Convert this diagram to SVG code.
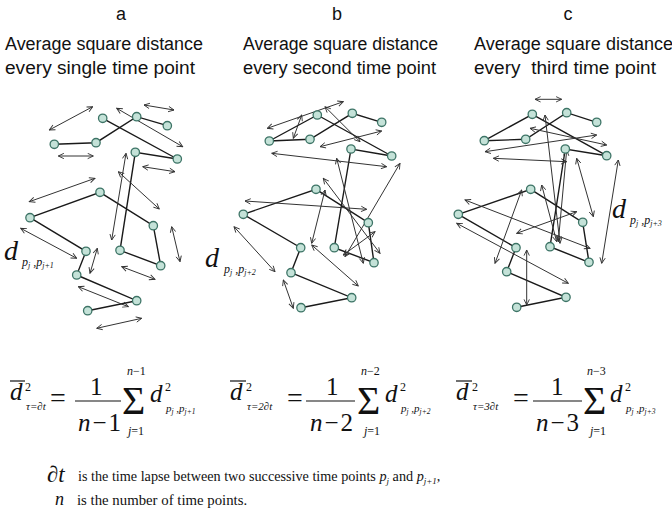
<svg xmlns="http://www.w3.org/2000/svg" width="672" height="530" viewBox="0 0 672 530">
<style>
.hd{font-family:"Liberation Sans",Arial,sans-serif;font-size:18px;fill:#111}
.mi{font-family:"Liberation Serif","Times New Roman",serif;font-style:italic;fill:#111}
.mr{font-family:"Liberation Serif","Times New Roman",serif;fill:#111}
.edge{stroke:#1a1a1a;stroke-width:1.4;fill:none}
.arr{stroke:#333;stroke-width:1;fill:none;marker-start:url(#ah);marker-end:url(#ah)}
.node circle{fill:#c4e2d8;stroke:#3d7466;stroke-width:1.3}
.bar{stroke:#111;stroke-width:1.2}
</style>
<defs>
<marker id="ah" viewBox="0 0 10 10" refX="9" refY="5" markerWidth="7" markerHeight="7" markerUnits="userSpaceOnUse" orient="auto-start-reverse">
<path d="M1,1.2 L9,5 L1,8.8" fill="none" stroke="#333" stroke-width="1.3"/>
</marker>
</defs>
<rect width="672" height="530" fill="#fff"/>

<g id="headers">
<text class="hd" x="121" y="20" text-anchor="middle">a</text>
<text class="hd" x="5" y="50" textLength="198" lengthAdjust="spacingAndGlyphs">Average square distance</text>
<text class="hd" x="5" y="74" textLength="190" lengthAdjust="spacingAndGlyphs">every single time point</text>
<text class="hd" x="337" y="20" text-anchor="middle">b</text>
<text class="hd" x="243" y="50" textLength="195" lengthAdjust="spacingAndGlyphs">Average square distance</text>
<text class="hd" x="243" y="74" textLength="193" lengthAdjust="spacingAndGlyphs">every second time point</text>
<text class="hd" x="568" y="20" text-anchor="middle">c</text>
<text class="hd" x="474" y="50" textLength="199" lengthAdjust="spacingAndGlyphs">Average square distance</text>
<text class="hd" x="474" y="74" textLength="182" lengthAdjust="spacingAndGlyphs" xml:space="preserve">every  third time point</text>
</g>

<g id="connectors">
<path class="edge" d="M54.3,144.3 L96,142.7 L136.7,116.7 L167.3,125.7"/>
<path class="edge" d="M102.7,118.3 L177.3,159 L135.3,152.3 L120,250.3 L160.7,265.7 L153.3,225.7 L100,192.3 L30,217.7 L86,251.3 L76.7,275 L136.7,300.7 L87.7,310.7"/>
<line class="arr" x1="49.3" y1="130" x2="92.7" y2="106.7"/>
<line class="arr" x1="58.3" y1="156" x2="93.3" y2="156"/>
<line class="arr" x1="116.7" y1="108.3" x2="182.7" y2="146.7"/>
<line class="arr" x1="144" y1="105" x2="174" y2="110"/>
<line class="arr" x1="142.7" y1="166.7" x2="175" y2="171.7"/>
<line class="arr" x1="126" y1="153.3" x2="111.7" y2="240"/>
<line class="arr" x1="118.3" y1="171.7" x2="159.3" y2="209"/>
<line class="arr" x1="29.3" y1="201.7" x2="95" y2="178.3"/>
<line class="arr" x1="20.7" y1="228.3" x2="76.7" y2="258.3"/>
<line class="arr" x1="171.7" y1="226.7" x2="180" y2="261.7"/>
<line class="arr" x1="121.7" y1="266.7" x2="155" y2="279.3"/>
<line class="arr" x1="97.3" y1="248.3" x2="90" y2="273.3"/>
<line class="arr" x1="78.3" y1="286.7" x2="128.3" y2="306.7"/>
<line class="arr" x1="96.7" y1="328.3" x2="141.7" y2="318.3"/>

<path class="edge" d="M317.3,115 L269.3,141 L310,139.3 L352.3,113.3 L381.7,122.3"/>
<path class="edge" d="M317.3,115 L391.7,156 L351,149 L334.3,247.7 L374,262.7 L368.3,222.7 L316,189.3 L243.3,214.3 L300.7,247.7 L291,272.7 L351.7,297.7 L301,307.7"/>
<line class="arr" x1="267.3" y1="128.3" x2="343.3" y2="101.7"/>
<line class="arr" x1="301.7" y1="115" x2="293.3" y2="138.3"/>
<line class="arr" x1="325" y1="106.7" x2="360" y2="141.7"/>
<line class="arr" x1="320" y1="146.7" x2="381.7" y2="131"/>
<line class="arr" x1="271.7" y1="153.3" x2="386.7" y2="166.7"/>
<line class="arr" x1="400" y1="163.3" x2="345" y2="256.7"/>
<line class="arr" x1="336.7" y1="158.3" x2="363.3" y2="263.3"/>
<line class="arr" x1="323.3" y1="178.3" x2="380" y2="253.3"/>
<line class="arr" x1="245" y1="201" x2="366.7" y2="209.3"/>
<line class="arr" x1="325" y1="190" x2="311.7" y2="243.3"/>
<line class="arr" x1="375" y1="231.7" x2="343.3" y2="255"/>
<line class="arr" x1="311.7" y1="245" x2="358.3" y2="286"/>
<line class="arr" x1="234" y1="226.7" x2="275" y2="271.7"/>
<line class="arr" x1="283.3" y1="280" x2="293.3" y2="308.3"/>

<path class="edge" d="M532.3,114.3 L484.3,140.7 L525.7,139.3 L566.7,112.7 L596.7,122.3"/>
<path class="edge" d="M532.3,114.3 L606.7,155.7 L565.3,149 L550,246.7 L589,262.3 L582.7,222.3 L530.7,189.3 L458.3,214.3 L516,247.7 L506.7,271.7 L566,297.3 L516.7,307.3"/>
<line class="arr" x1="535" y1="99.3" x2="561.7" y2="99.3"/>
<line class="arr" x1="545" y1="115" x2="560" y2="243.3"/>
<line class="arr" x1="530" y1="128.3" x2="606.7" y2="145"/>
<line class="arr" x1="485" y1="151.7" x2="596.7" y2="135"/>
<line class="arr" x1="493.3" y1="158.3" x2="566.7" y2="161.7"/>
<line class="arr" x1="566.7" y1="150" x2="558.3" y2="241.7"/>
<line class="arr" x1="576.7" y1="158.3" x2="593.3" y2="216.7"/>
<line class="arr" x1="618.3" y1="160" x2="601.7" y2="263.3"/>
<line class="arr" x1="465" y1="200" x2="590" y2="248.3"/>
<line class="arr" x1="456.7" y1="223.3" x2="568.3" y2="283.3"/>
<line class="arr" x1="521.7" y1="190" x2="495" y2="263.3"/>
<line class="arr" x1="516.7" y1="233.3" x2="576.7" y2="211.7"/>
<line class="arr" x1="541.7" y1="185" x2="556.7" y2="241.7"/>
<line class="arr" x1="526.7" y1="250" x2="526.7" y2="305"/>
</g>

<g id="a1" class="node"><circle cx="54.3" cy="144.3" r="4.2"/></g>
<g id="a2" class="node"><circle cx="96" cy="142.7" r="4.2"/></g>
<g id="a3" class="node"><circle cx="102.7" cy="118.3" r="4.2"/></g>
<g id="a4" class="node"><circle cx="136.7" cy="116.7" r="4.2"/></g>
<g id="a5" class="node"><circle cx="167.3" cy="125.7" r="4.2"/></g>
<g id="a6" class="node"><circle cx="177.3" cy="159" r="4.2"/></g>
<g id="a7" class="node"><circle cx="135.3" cy="152.3" r="4.2"/></g>
<g id="a8" class="node"><circle cx="100" cy="192.3" r="4.2"/></g>
<g id="a9" class="node"><circle cx="30" cy="217.7" r="4.2"/></g>
<g id="a10" class="node"><circle cx="153.3" cy="225.7" r="4.2"/></g>
<g id="a11" class="node"><circle cx="160.7" cy="265.7" r="4.2"/></g>
<g id="a12" class="node"><circle cx="120" cy="250.3" r="4.2"/></g>
<g id="a13" class="node"><circle cx="86" cy="251.3" r="4.2"/></g>
<g id="a14" class="node"><circle cx="76.7" cy="275" r="4.2"/></g>
<g id="a15" class="node"><circle cx="136.7" cy="300.7" r="4.2"/></g>
<g id="a16" class="node"><circle cx="87.7" cy="310.7" r="4.2"/></g>

<g id="b1" class="node"><circle cx="269.3" cy="141" r="4.2"/></g>
<g id="b2" class="node"><circle cx="310" cy="139.3" r="4.2"/></g>
<g id="b3" class="node"><circle cx="317.3" cy="115" r="4.2"/></g>
<g id="b4" class="node"><circle cx="352.3" cy="113.3" r="4.2"/></g>
<g id="b5" class="node"><circle cx="381.7" cy="122.3" r="4.2"/></g>
<g id="b6" class="node"><circle cx="391.7" cy="156" r="4.2"/></g>
<g id="b7" class="node"><circle cx="351" cy="149" r="4.2"/></g>
<g id="b8" class="node"><circle cx="316" cy="189.3" r="4.2"/></g>
<g id="b9" class="node"><circle cx="243.3" cy="214.3" r="4.2"/></g>
<g id="b10" class="node"><circle cx="368.3" cy="222.7" r="4.2"/></g>
<g id="b11" class="node"><circle cx="374" cy="262.7" r="4.2"/></g>
<g id="b12" class="node"><circle cx="334.3" cy="247.7" r="4.2"/></g>
<g id="b13" class="node"><circle cx="300.7" cy="247.7" r="4.2"/></g>
<g id="b14" class="node"><circle cx="291" cy="272.7" r="4.2"/></g>
<g id="b15" class="node"><circle cx="351.7" cy="297.7" r="4.2"/></g>
<g id="b16" class="node"><circle cx="301" cy="307.7" r="4.2"/></g>

<g id="c1" class="node"><circle cx="484.3" cy="140.7" r="4.2"/></g>
<g id="c2" class="node"><circle cx="525.7" cy="139.3" r="4.2"/></g>
<g id="c3" class="node"><circle cx="532.3" cy="114.3" r="4.2"/></g>
<g id="c4" class="node"><circle cx="566.7" cy="112.7" r="4.2"/></g>
<g id="c5" class="node"><circle cx="596.7" cy="122.3" r="4.2"/></g>
<g id="c6" class="node"><circle cx="606.7" cy="155.7" r="4.2"/></g>
<g id="c7" class="node"><circle cx="565.3" cy="149" r="4.2"/></g>
<g id="c8" class="node"><circle cx="530.7" cy="189.3" r="4.2"/></g>
<g id="c9" class="node"><circle cx="458.3" cy="214.3" r="4.2"/></g>
<g id="c10" class="node"><circle cx="582.7" cy="222.3" r="4.2"/></g>
<g id="c11" class="node"><circle cx="589" cy="262.3" r="4.2"/></g>
<g id="c12" class="node"><circle cx="550" cy="246.7" r="4.2"/></g>
<g id="c13" class="node"><circle cx="516" cy="247.7" r="4.2"/></g>
<g id="c14" class="node"><circle cx="506.7" cy="271.7" r="4.2"/></g>
<g id="c15" class="node"><circle cx="566" cy="297.3" r="4.2"/></g>
<g id="c16" class="node"><circle cx="516.7" cy="307.3" r="4.2"/></g>

<g id="labels">
<text class="mi" x="4" y="260" font-size="28">d</text>
<text class="mi" x="22" y="266" font-size="12">p<tspan font-size="8" dy="2">j</tspan><tspan dy="-2"> ,p</tspan><tspan font-size="8" dy="2">j+1</tspan></text>
<text class="mi" x="205" y="267" font-size="28">d</text>
<text class="mi" x="224" y="273" font-size="12">p<tspan font-size="8" dy="2">j</tspan><tspan dy="-2"> ,p</tspan><tspan font-size="8" dy="2">j+2</tspan></text>
<text class="mi" x="612" y="218" font-size="28">d</text>
<text class="mi" x="630" y="224" font-size="12">p<tspan font-size="8" dy="2">j</tspan><tspan dy="-2"> ,p</tspan><tspan font-size="8" dy="2">j+3</tspan></text>
</g>

<g id="formula-a">
<line class="bar" x1="10" y1="381" x2="25" y2="381"/>
<text class="mi" x="10" y="400" font-size="25">d</text>
<text class="mr" x="25" y="391" font-size="12">2</text>
<text class="mi" x="26" y="410" font-size="11">τ=∂t</text>
<text class="mr" x="50" y="407" font-size="28">=</text>
<text class="mr" x="90" y="395" font-size="25">1</text>
<line class="bar" x1="75" y1="401" x2="121" y2="401"/>
<text x="78" y="431" font-size="25"><tspan class="mi">n</tspan><tspan class="mr" dx="2">−</tspan><tspan class="mr" dx="2">1</tspan></text>
<text class="mr" x="122" y="414" font-size="40">Σ</text>
<text x="127" y="375" font-size="12"><tspan class="mi">n</tspan><tspan class="mr">−1</tspan></text>
<text x="128" y="435" font-size="12"><tspan class="mi">j</tspan><tspan class="mr">=1</tspan></text>
<text class="mi" x="150" y="402" font-size="25">d</text>
<text class="mr" x="165" y="391" font-size="12">2</text>
<text class="mi" x="166" y="412" font-size="11">p<tspan font-size="7.5" dy="2">j</tspan><tspan dy="-2"> ,p</tspan><tspan font-size="7.5" dy="2">j+1</tspan></text>
</g>
<g id="formula-b">
<line class="bar" x1="230" y1="381" x2="246" y2="381"/>
<text class="mi" x="230" y="400" font-size="25">d</text>
<text class="mr" x="246" y="391" font-size="12">2</text>
<text class="mi" x="247" y="410" font-size="11">τ=2∂t</text>
<text class="mr" x="287" y="407" font-size="28">=</text>
<text class="mr" x="326" y="395" font-size="25">1</text>
<line class="bar" x1="306" y1="401" x2="355" y2="401"/>
<text x="310" y="431" font-size="25"><tspan class="mi">n</tspan><tspan class="mr" dx="2">−</tspan><tspan class="mr" dx="2">2</tspan></text>
<text class="mr" x="357" y="414" font-size="40">Σ</text>
<text x="361" y="375" font-size="12"><tspan class="mi">n</tspan><tspan class="mr">−2</tspan></text>
<text x="364" y="435" font-size="12"><tspan class="mi">j</tspan><tspan class="mr">=1</tspan></text>
<text class="mi" x="385" y="402" font-size="25">d</text>
<text class="mr" x="400" y="391" font-size="12">2</text>
<text class="mi" x="401" y="412" font-size="11">p<tspan font-size="7.5" dy="2">j</tspan><tspan dy="-2"> ,p</tspan><tspan font-size="7.5" dy="2">j+2</tspan></text>
</g>
<g id="formula-c">
<line class="bar" x1="456" y1="381" x2="472" y2="381"/>
<text class="mi" x="456" y="400" font-size="25">d</text>
<text class="mr" x="472" y="391" font-size="12">2</text>
<text class="mi" x="473" y="410" font-size="11">τ=3∂t</text>
<text class="mr" x="513" y="407" font-size="28">=</text>
<text class="mr" x="551" y="395" font-size="25">1</text>
<line class="bar" x1="533" y1="401" x2="582" y2="401"/>
<text x="536" y="431" font-size="25"><tspan class="mi">n</tspan><tspan class="mr" dx="2">−</tspan><tspan class="mr" dx="2">3</tspan></text>
<text class="mr" x="583" y="414" font-size="40">Σ</text>
<text x="587" y="375" font-size="12"><tspan class="mi">n</tspan><tspan class="mr">−3</tspan></text>
<text x="590" y="435" font-size="12"><tspan class="mi">j</tspan><tspan class="mr">=1</tspan></text>
<text class="mi" x="610" y="402" font-size="25">d</text>
<text class="mr" x="625" y="391" font-size="12">2</text>
<text class="mi" x="626" y="412" font-size="11">p<tspan font-size="7.5" dy="2">j</tspan><tspan dy="-2"> ,p</tspan><tspan font-size="7.5" dy="2">j+3</tspan></text>
</g>

<g id="notes">
<text class="mi" x="47" y="482" font-size="23">∂t</text>
<text class="mr" x="78" y="481" font-size="14.2">is the time lapse between two successive time points <tspan class="mi">p</tspan><tspan class="mi" font-size="9" dy="3">j</tspan><tspan dy="-3"> and </tspan><tspan class="mi">p</tspan><tspan class="mi" font-size="9" dy="3">j+1</tspan><tspan dy="-3">,</tspan></text>
<text class="mi" x="55" y="505" font-size="18">n</text>
<text class="mr" x="77" y="505" font-size="14.8">is the number of time points.</text>
</g>
</svg>
